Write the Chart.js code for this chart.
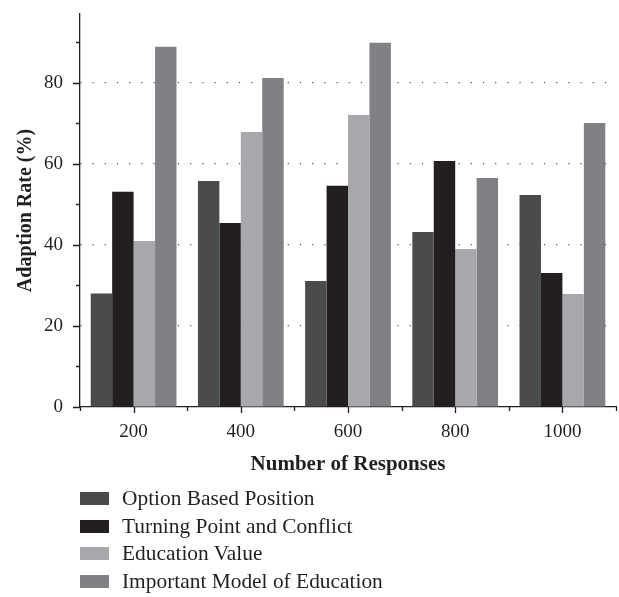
<!DOCTYPE html>
<html>
<head>
<meta charset="utf-8">
<script src="https://cdn.jsdelivr.net/npm/chart.js@4"></script>
<style>
  body { margin: 0; background: #fff; }
  #wrap { position: relative; width: 619px; height: 597px; }
  #legend { position: absolute; left: 80px; top: 485px; font-family: "Liberation Serif", serif; font-size: 21.4px; color: #231f20; }
  .item { display: flex; align-items: center; height: 27.5px; }
  .box { width: 29px; height: 13px; margin-right: 13px; }
</style>
</head>
<body>
<div id="wrap">
  <canvas id="chart" width="619" height="597"></canvas>
  <div id="legend"></div>
</div>
<script>
const responses = ["200", "400", "600", "800", "1000"];
const optionBased = [28, 55.8, 31.1, 43.2, 52.3];
const turningPoint = [53.1, 45.4, 54.6, 60.7, 33.1];
const educationValue = [41, 67.9, 72.1, 39, 27.9];
const importantModel = [88.9, 81.2, 89.9, 56.5, 70.1];
const seriesNames = ["Option Based Position", "Turning Point and Conflict", "Education Value", "Important Model of Education"];
const colors = ["#4a4b4d", "#231f20", "#a7a8ab", "#808185"];

const serif = "'Liberation Serif', serif";

// small ticks on both axes, long ones on the labelled values
const axisTicks = {
  id: "axisTicks",
  afterDraw(chart) {
    const { ctx, scales: { x, y } } = chart;
    ctx.save();
    ctx.strokeStyle = "#231f20";
    ctx.lineWidth = 1.3;
    ctx.beginPath();
    for (let v = 0; v <= 90; v += 10) {
      const py = Math.round(y.getPixelForValue(v)) + 0.5;
      const len = v % 20 === 0 ? 7 : 4;
      ctx.moveTo(x.left - len, py);
      ctx.lineTo(x.left, py);
    }
    for (let i = 0; i < responses.length; i++) {
      const px = Math.round(x.getPixelForValue(i)) + 0.5;
      ctx.moveTo(px, y.bottom);
      ctx.lineTo(px, y.bottom + 6);
    }
    for (let i = 0; i <= responses.length; i++) {
      const px = Math.round(x.getPixelForValue(i - 0.5)) + 0.5;
      ctx.moveTo(px, y.bottom);
      ctx.lineTo(px, y.bottom + 4);
    }
    ctx.stroke();
    ctx.restore();
  }
};

const chart = new Chart(document.getElementById("chart"), {
  type: "bar",
  data: {
    labels: responses,
    datasets: [optionBased, turningPoint, educationValue, importantModel].map((d, i) => ({
      label: seriesNames[i],
      data: d,
      backgroundColor: colors[i],
      categoryPercentage: 0.8,
      barPercentage: 1.0
    }))
  },
  options: {
    responsive: false,
    animation: false,
    layout: { padding: { left: 0, right: 3, top: 14, bottom: 115 } },
    plugins: { legend: { display: false }, tooltip: { enabled: false } },
    scales: {
      x: {
        afterFit: (s) => { s.height = 75; },
        grid: { display: false, drawTicks: false },
        border: { display: true, color: "#231f20", width: 1.3 },
        ticks: { color: "#231f20", padding: 14, font: { family: serif, size: 19 } },
        title: { display: true, text: "Number of Responses", color: "#231f20", padding: { top: 0, bottom: 5 }, font: { family: serif, size: 21, weight: "bold" } }
      },
      y: {
        min: 0,
        max: 97,
        afterFit: (s) => { s.width = 80; s.paddingTop = 0; s.paddingBottom = 0; },
        afterBuildTicks: (s) => { s.ticks = [0, 10, 20, 30, 40, 50, 60, 70, 80, 90].map(v => ({ value: v })); },
        grid: {
          drawTicks: false,
          color: (c) => (c.tick && c.tick.value > 0 && c.tick.value % 20 === 0) ? "#555" : "rgba(0,0,0,0)",
          lineWidth: 1.2
        },
        border: { display: true, color: "#231f20", width: 1.3, dash: [1.2, 11] },
        ticks: {
          color: "#231f20",
          padding: 17,
          font: { family: serif, size: 19 },
          callback: (v) => (v % 20 === 0 ? v : "")
        },
        title: { display: true, text: "Adaption Rate (%)", color: "#231f20", padding: { top: 14, bottom: 0 }, font: { family: serif, size: 20, weight: "bold" } }
      }
    }
  },
  plugins: [axisTicks]
});

const legend = document.getElementById("legend");
chart.data.datasets.forEach((ds) => {
  const row = document.createElement("div");
  row.className = "item";
  const box = document.createElement("span");
  box.className = "box";
  box.style.background = ds.backgroundColor;
  const label = document.createElement("span");
  label.textContent = ds.label;
  row.appendChild(box);
  row.appendChild(label);
  legend.appendChild(row);
});
</script>
</body>
</html>
